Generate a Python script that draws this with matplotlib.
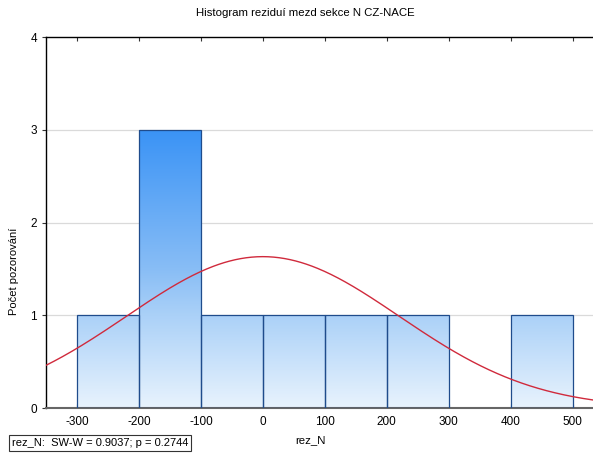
import numpy as np
import matplotlib
matplotlib.use("Agg")
import matplotlib.pyplot as plt
from matplotlib.patches import Rectangle
from matplotlib.colors import LinearSegmentedColormap

plt.rcParams['font.family'] = ['Liberation Sans', 'DejaVu Sans']
plt.rcParams['axes.unicode_minus'] = False

# Histogram of residuals (bin edges and counts)
bin_edges = [-300, -200, -100, 0, 100, 200, 300, 400, 500]
counts = [1, 3, 1, 1, 1, 1, 0, 1]
# Fitted normal distribution
fit_mean = 0.0
fit_sd = 220.0
n_obs = 9
x_ticks = [-300, -200, -100, 0, 100, 200, 300, 400, 500]
y_ticks = [0, 1, 2, 3, 4]

title = "Histogram reziduí mezd sekce N CZ-NACE"
xlabel = "rez_N"
ylabel = "Počet pozorování"
stat_text = "rez_N:  SW-W = 0.9037; p = 0.2744"

fig = plt.figure(figsize=(5.93, 4.53), dpi=100)
ax = fig.add_axes([0.0776, 0.0993, 0.9224, 0.8190])

xmin, xmax = -350, 533
ax.set_xlim(xmin, xmax)
ax.set_ylim(0, 4)

# Vertical gradient shared by all bars
cmap = LinearSegmentedColormap.from_list(
    "bars", [(0.0, "#e8f3fd"), (0.33, "#abd1f8"), (0.5, "#88bdf5"), (1.0, "#3a93f6")])
grad = np.linspace(0, 1, 256).reshape(-1, 1)

for y in [1, 2, 3]:
    ax.axhline(y, color="#dadada", lw=0.9, zorder=0)

binw = bin_edges[1] - bin_edges[0]
for left, c in zip(bin_edges[:-1], counts):
    if c == 0:
        continue
    rect = Rectangle((left, 0), binw, c, facecolor="none",
                     edgecolor="#1f4c8c", lw=0.9, zorder=3)
    ax.add_patch(rect)
    im = ax.imshow(grad, extent=(left, left + binw, 0, 3), origin="lower",
                   cmap=cmap, aspect="auto", zorder=2)
    im.set_clip_path(rect)

xs = np.linspace(xmin, xmax, 400)
pdf = np.exp(-0.5 * ((xs - fit_mean) / fit_sd) ** 2) / (fit_sd * np.sqrt(2 * np.pi))
ax.plot(xs, n_obs * binw * pdf, color="#d02a3c", lw=1.0, zorder=4)

ax.set_xticks(x_ticks)
ax.set_yticks(y_ticks)
ax.tick_params(axis="both", labelsize=8.5, length=3, width=0.8, color="#333333")
ax.tick_params(axis="x", top=True, direction="in", pad=6)
ax.tick_params(axis="y", direction="out")

ax.spines["right"].set_visible(False)
ax.spines["top"].set_linewidth(1.0)
ax.spines["left"].set_linewidth(1.0)
ax.spines["bottom"].set_color("#666666")
ax.spines["bottom"].set_linewidth(1.5)

fig.text(0.515, 0.972, title, ha="center", va="center", fontsize=8.2)
fig.text(0.523, 0.028, xlabel, ha="center", va="center", fontsize=8.2)
fig.text(0.024, 0.40, ylabel, ha="center", va="center", rotation=90, fontsize=8)
fig.text(0.02, 0.022, stat_text, ha="left", va="center", fontsize=8,
         bbox=dict(boxstyle="square,pad=0.25", facecolor="white",
                   edgecolor="#333333", lw=0.8))

fig.savefig("out.png", dpi=100)
